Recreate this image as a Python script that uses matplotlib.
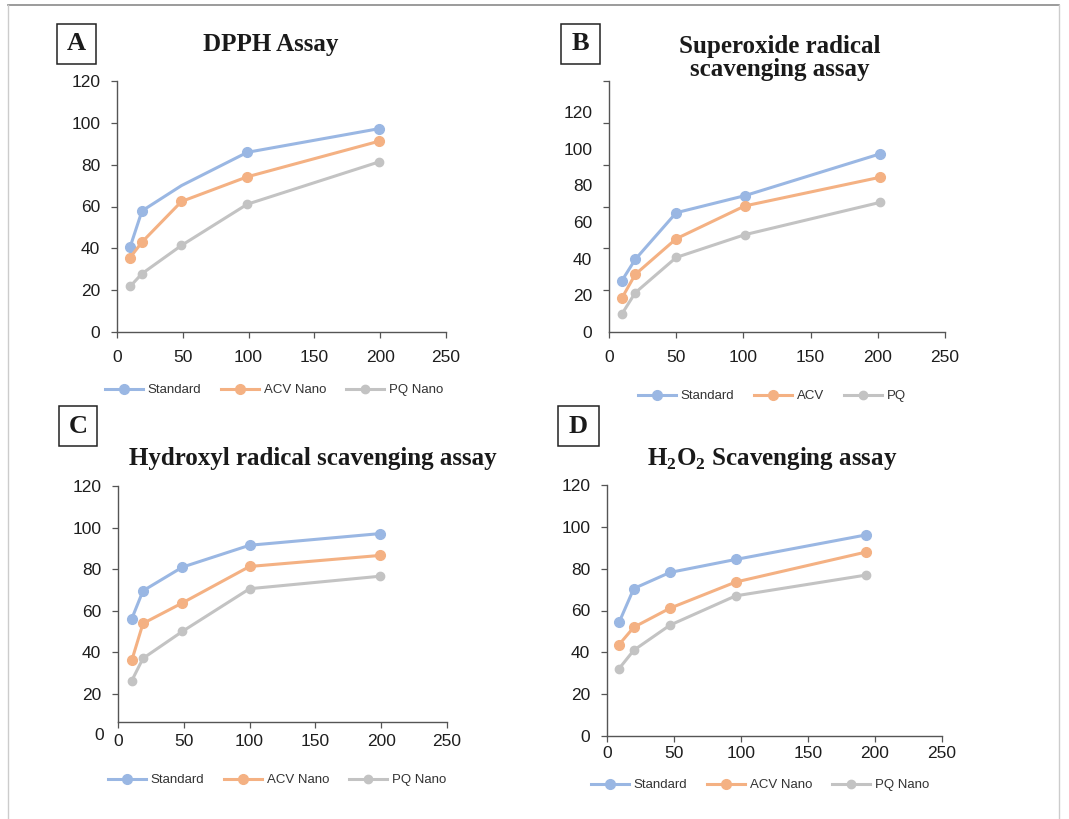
import numpy as np
import matplotlib.pyplot as plt
from matplotlib.patches import Rectangle
from matplotlib.lines import Line2D

W, H = 1069, 819

# A: DPPH assay
dpph_x = [10, 19, 49, 99, 199]
dpph_std = [40.7, 57.9, 70.0, 85.9, 97.2]
dpph_acv = [35.6, 43.0, 62.4, 74.2, 91.2]
dpph_pq = [21.8, 27.9, 41.4, 61.1, 81.3]

# B: superoxide radical scavenging
sup_x = [9.5, 19.5, 50, 101, 202]
sup_std = [27.9, 39.6, 65.1, 74.4, 97.3]
sup_acv = [18.4, 31.4, 50.9, 68.8, 84.5]
sup_pq = [9.7, 21.4, 40.7, 53.1, 70.8]

# C: hydroxyl radical scavenging
hyd_x = [10.5, 19, 49, 100, 199]
hyd_std = [56.2, 69.6, 81.0, 91.5, 97.1]
hyd_acv = [36.2, 53.9, 63.8, 81.3, 86.6]
hyd_pq = [26.4, 37.1, 50.1, 70.6, 76.6]

# D: H2O2 scavenging
h2o2_x = [9, 20, 47, 96, 193]
h2o2_std = [54.3, 70.5, 78.2, 84.4, 96.1]
h2o2_acv = [43.7, 52.0, 61.1, 73.6, 87.9]
h2o2_pq = [32.2, 41.0, 53.0, 67.0, 76.9]

blue = '#9AB7E3'
orange = '#F4B183'
gray = '#C3C3C3'

plt.rcParams['font.family'] = ['Liberation Sans', 'DejaVu Sans']

fig = plt.figure(figsize=(W / 100, H / 100), dpi=100)


def px_axes(l, t, r, b):
    return fig.add_axes([l / W, 1 - b / H, (r - l) / W, (b - t) / H])


def label_box(letter, l, t, r, b):
    fig.add_artist(Rectangle((l / W, 1 - b / H), (r - l) / W, (b - t) / H,
                             transform=fig.transFigure, fill=False,
                             edgecolor='#222222', lw=1.1))
    fig.text((l + r) / 2 / W, 1 - (t + b) / 2 / H, letter, ha='center',
             va='center', family='Liberation Serif', weight='bold',
             fontsize=19, color='#1a1a1a')


def panel(ax, x, series, names, ylim, yticks, legend_xy, std_mark=None, xpad=9):
    cols = [blue, orange, gray]
    sizes = [7, 7, 6]
    for i, (y, name) in enumerate(zip(series, names)):
        me = std_mark if (i == 0 and std_mark is not None) else None
        ax.plot(x, y, color=cols[i], lw=2.2, marker='o', ms=sizes[i],
                label=name, markevery=me, clip_on=False)
    ax.set_xlim(0, 250)
    ax.set_xticks(np.arange(0, 251, 50))
    ax.set_ylim(*ylim)
    ax.set_yticks(yticks)
    for s in ['top', 'right']:
        ax.spines[s].set_visible(False)
    for s in ['left', 'bottom']:
        ax.spines[s].set_color('#555555')
        ax.spines[s].set_linewidth(1.0)
    ax.tick_params(labelsize=12.5, colors='#555555', labelcolor='#1e1e1e',
                   length=4, width=0.9)
    ax.tick_params(axis='y', pad=8)
    ax.tick_params(axis='x', pad=xpad)
    ax.legend(loc='center', bbox_to_anchor=(legend_xy[0] / W, 1 - legend_xy[1] / H),
              bbox_transform=fig.transFigure, ncol=3, frameon=False,
              fontsize=9.5, handlelength=2.9, handletextpad=0.35,
              columnspacing=1.5, labelcolor='#333333')


title_kw = dict(family='Liberation Serif', weight='bold', fontsize=18,
                color='#1a1a1a', ha='center', va='center')

# A
axA = px_axes(117, 81, 446, 332)
panel(axA, dpph_x, [dpph_std, dpph_acv, dpph_pq],
      ['Standard', 'ACV Nano', 'PQ Nano'], (0, 120), np.arange(0, 121, 20),
      (274, 390), std_mark=[0, 1, 3, 4])
fig.text(271 / W, 1 - 45 / H, 'DPPH Assay', **title_kw)
label_box('A', 57, 24, 96, 64)

# B
axB = px_axes(609, 81, 945, 332)
panel(axB, sup_x, [sup_std, sup_acv, sup_pq],
      ['Standard', 'ACV', 'PQ'], (0, 137), np.arange(0, 121, 20), (772, 396))
axB.tick_params(axis='y', which='major', length=0, pad=12)
axB.set_yticks(np.linspace(0, 137, 7), minor=True)
axB.tick_params(axis='y', which='minor', length=4, width=0.9, colors='#555555')
fig.text(780 / W, 1 - 58 / H, 'Superoxide radical\nscavenging assay',
         linespacing=0.95, **title_kw)
label_box('B', 561, 24, 600, 64)

# C (x axis sits a little above zero in the original)
axC = px_axes(118, 486, 447, 722)
panel(axC, hyd_x, [hyd_std, hyd_acv, hyd_pq],
      ['Standard', 'ACV Nano', 'PQ Nano'], (6.5, 120), np.arange(20, 121, 20),
      (277, 780), xpad=5)
axC.text(-11, 0, '0', transform=axC.transData, ha='right',
         va='center', fontsize=12.5, color='#1e1e1e', clip_on=False)
fig.text(313 / W, 1 - 458 / H, 'Hydroxyl radical scavenging assay', **title_kw)
label_box('C', 59, 406, 97, 446)

# D
axD = px_axes(607, 485, 942, 736)
panel(axD, h2o2_x, [h2o2_std, h2o2_acv, h2o2_pq],
      ['Standard', 'ACV Nano', 'PQ Nano'], (0, 120), np.arange(0, 121, 20),
      (760, 785), xpad=3)
fig.text(772 / W, 1 - 458 / H,
         r'H$_\mathregular{2}$O$_\mathregular{2}$ Scavenging assay', **title_kw)
label_box('D', 558, 406, 599, 446)

# outer frame
fc = '#8a8a8a'
fig.add_artist(Line2D([8 / W, 1059 / W], [1 - 5 / H, 1 - 5 / H], color=fc, lw=1.2))
fig.add_artist(Line2D([8 / W, 8 / W], [1 - 5 / H, 0], color='#cccccc', lw=1.0))
fig.add_artist(Line2D([1059 / W, 1059 / W], [1 - 5 / H, 0], color='#cccccc', lw=1.0))

fig.savefig('out.png', dpi=100)
